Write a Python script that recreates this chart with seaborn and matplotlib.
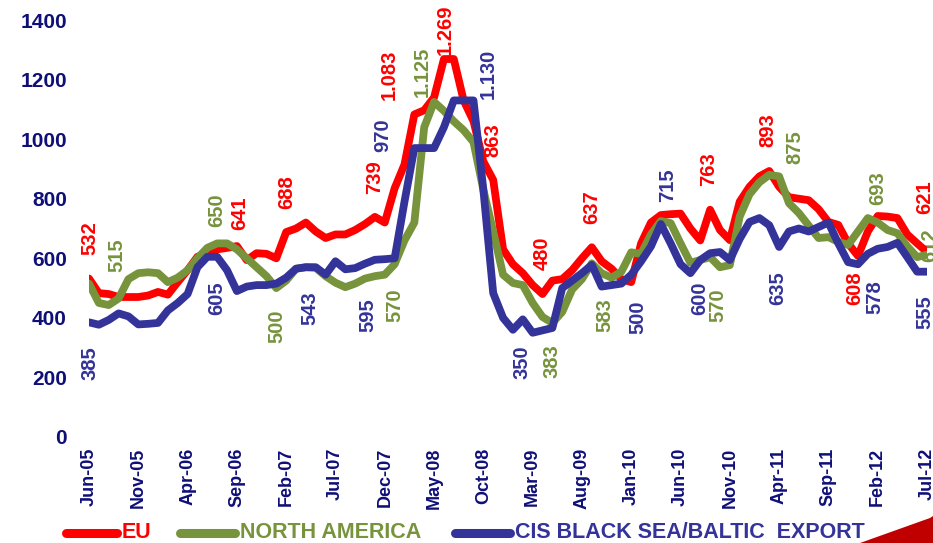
import numpy as np
import pandas as pd
import matplotlib
matplotlib.use("Agg")
import matplotlib.pyplot as plt
from matplotlib.lines import Line2D
from matplotlib.patches import Polygon
from matplotlib import font_manager
import seaborn as sns

# ---------------- data ----------------
months = pd.date_range("2005-06-01", periods=86, freq="MS")
month_labels = [d.strftime("%b-%y") for d in months]

eu = [532, 483, 480, 470, 470, 470, 475, 487, 478, 520,
      560, 605, 617, 630, 635, 641, 594, 617, 615, 600,
      688, 700, 720, 690, 668, 680, 680, 695, 715, 739,
      720, 835, 915, 1083, 1097, 1140, 1269, 1269, 1130, 1060,
      925, 863, 630, 580, 550, 510, 480, 525, 530, 560,
      600, 637, 590, 565, 530, 520, 650, 720, 745, 748,
      750, 700, 660, 763, 695, 661, 790, 840, 875, 893,
      840, 805, 800, 795, 765, 722, 712, 650, 608, 690,
      742, 740, 735, 680, 650, 621]

north_america = [515, 450, 443, 465, 530, 550, 553, 550, 520, 535,
                 560, 600, 635, 650, 650, 630, 600, 570, 540, 500,
                 525, 565, 570, 568, 540, 518, 503, 515, 532, 540,
                 545, 580, 660, 720, 1040, 1125, 1095, 1060, 1030, 990,
                 830, 690, 545, 517, 510, 450, 403, 383, 420, 495,
                 530, 583, 550, 535, 555, 620, 615, 680, 725, 718,
                 650, 585, 594, 604, 570, 577, 740, 815, 855, 880,
                 875, 785, 752, 710, 668, 671, 655, 645, 690, 735,
                 720, 695, 684, 640, 604, 612]

cis_export = [385, 377, 393, 415, 405, 378, 380, 383, 425, 450,
              480, 570, 605, 605, 560, 490, 505, 510, 510, 515,
              535, 565, 570, 570, 545, 590, 563, 567, 582, 595,
              597, 600, 790, 970, 970, 970, 1040, 1130, 1130, 1130,
              830, 483, 400, 360, 395, 350, 358, 366, 500, 525,
              550, 578, 505, 510, 515, 545, 590, 640, 715, 650,
              580, 550, 594, 617, 621, 594, 665, 722, 735, 711,
              638, 690, 700, 690, 705, 720, 650, 587, 580, 615,
              632, 638, 652, 604, 555, 555]

series_names = ["EU", "NORTH AMERICA", "CIS BLACK SEA/BALTIC  EXPORT"]
series_values = [eu, north_america, cis_export]
colors = {"EU": "#FF0000", "NORTH AMERICA": "#77933C",
          "CIS BLACK SEA/BALTIC  EXPORT": "#333399"}

# value labels: (series, label text, month index, label centre value)
value_labels = [
    ("EU", "532", 0.1, 668), ("EU", "641", 15.3, 752), ("EU", "688", 20.1, 822),
    ("EU", "739", 29.0, 872), ("EU", "1.083", 30.5, 1215), ("EU", "1.269", 36.1, 1366),
    ("EU", "863", 41.0, 997), ("EU", "480", 46.0, 617), ("EU", "637", 51.0, 772),
    ("EU", "763", 62.8, 899), ("EU", "893", 68.9, 1030), ("EU", "608", 77.7, 500),
    ("EU", "621", 84.8, 805),
    ("NORTH AMERICA", "515", 2.8, 611), ("NORTH AMERICA", "650", 13.0, 762),
    ("NORTH AMERICA", "500", 19.1, 372), ("NORTH AMERICA", "570", 31.0, 443),
    ("NORTH AMERICA", "1.125", 33.8, 1225), ("NORTH AMERICA", "383", 47.0, 255),
    ("NORTH AMERICA", "583", 52.3, 409), ("NORTH AMERICA", "570", 63.8, 443),
    ("NORTH AMERICA", "875", 71.6, 973), ("NORTH AMERICA", "693", 80.0, 836),
    ("NORTH AMERICA", "612", 85.3, 644),
    ("CIS BLACK SEA/BALTIC  EXPORT", "385", 0.1, 248),
    ("CIS BLACK SEA/BALTIC  EXPORT", "605", 13.0, 466),
    ("CIS BLACK SEA/BALTIC  EXPORT", "543", 22.4, 433),
    ("CIS BLACK SEA/BALTIC  EXPORT", "595", 28.3, 409),
    ("CIS BLACK SEA/BALTIC  EXPORT", "970", 29.8, 1013),
    ("CIS BLACK SEA/BALTIC  EXPORT", "1.130", 40.5, 1218),
    ("CIS BLACK SEA/BALTIC  EXPORT", "350", 43.9, 252),
    ("CIS BLACK SEA/BALTIC  EXPORT", "500", 55.7, 403),
    ("CIS BLACK SEA/BALTIC  EXPORT", "715", 58.7, 846),
    ("CIS BLACK SEA/BALTIC  EXPORT", "600", 62.0, 466),
    ("CIS BLACK SEA/BALTIC  EXPORT", "635", 69.9, 500),
    ("CIS BLACK SEA/BALTIC  EXPORT", "578", 79.7, 470),
    ("CIS BLACK SEA/BALTIC  EXPORT", "555", 84.8, 419),
]

y_ticks = [0, 200, 400, 600, 800, 1000, 1200, 1400]

# ---------------- style ----------------
sns.set_style("white")
plt.rcParams["font.family"] = ["Liberation Sans", "DejaVu Sans"]
navy = "#0F0F78"

available = {f.name for f in font_manager.fontManager.ttflist}
legend_family = "Liberation Sans Narrow" if "Liberation Sans Narrow" in available else "Liberation Sans"
legend_size = 18 if legend_family == "Liberation Sans Narrow" else 15.5

frames = []
for name, vals in zip(series_names, series_values):
    frames.append(pd.DataFrame({"idx": np.arange(len(vals)), "value": vals, "series": name}))
df = pd.concat(frames, ignore_index=True)

W, H = 933, 543
fig = plt.figure(figsize=(W / 100, H / 100), dpi=100)
ax = fig.add_axes([89 / W, (H - 437) / H, 838 / W, 417 / H])

sns.lineplot(data=df, x="idx", y="value", hue="series", hue_order=series_names,
             palette=colors, linewidth=5.6, legend=False, sort=False, ax=ax,
             zorder=3)
for line in ax.get_lines():
    line.set_solid_joinstyle("round")
    line.set_solid_capstyle("round")

for name, txt, xi, yv in value_labels:
    ax.text(xi, yv, txt, rotation=90, ha="center", va="center", color=colors[name],
            fontsize=14.5, fontweight="bold", clip_on=False, zorder=1)

ax.set_xlim(0, 85)
ax.set_ylim(0, 1400)
ax.set_yticks(y_ticks)
ax.set_yticklabels([str(t) for t in y_ticks], fontsize=15, fontweight="bold", color=navy)
tick_pos = list(range(0, 86, 5))
ax.set_xticks(tick_pos)
ax.set_xticklabels([month_labels[i] for i in tick_pos], rotation=90, fontsize=13,
                   fontweight="bold", color=navy)
ax.tick_params(axis="y", length=0, pad=16)
ax.tick_params(axis="x", length=0, pad=8)
ax.set_xlabel("")
ax.set_ylabel("")
for s in ax.spines.values():
    s.set_visible(False)
ax.grid(False)

# decorative swoosh bottom right
sw = Polygon([[860 / W, 0], [1.0, 0], [1.0, (H - 516) / H], [930 / W, (H - 518) / H]],
             closed=True, transform=fig.transFigure, facecolor="#C00000",
             edgecolor="none", zorder=0)
fig.add_artist(sw)

# custom legend
leg_y = (H - 533) / H
base_y = (H - 538) / H
items = [("EU", 66, 117, 122), ("NORTH AMERICA", 180, 235, 240),
         ("CIS BLACK SEA/BALTIC  EXPORT", 455, 510, 515)]
for name, x0, x1, xt in items:
    fig.add_artist(Line2D([x0 / W, x1 / W], [leg_y, leg_y], transform=fig.transFigure,
                          color=colors[name], linewidth=6.5, solid_capstyle="round"))
    fig.text(xt / W, base_y, name, color=colors[name], fontsize=legend_size,
             fontweight="bold", family=[legend_family, "DejaVu Sans"],
             ha="left", va="baseline", zorder=5)

fig.savefig("out.png", dpi=100)
